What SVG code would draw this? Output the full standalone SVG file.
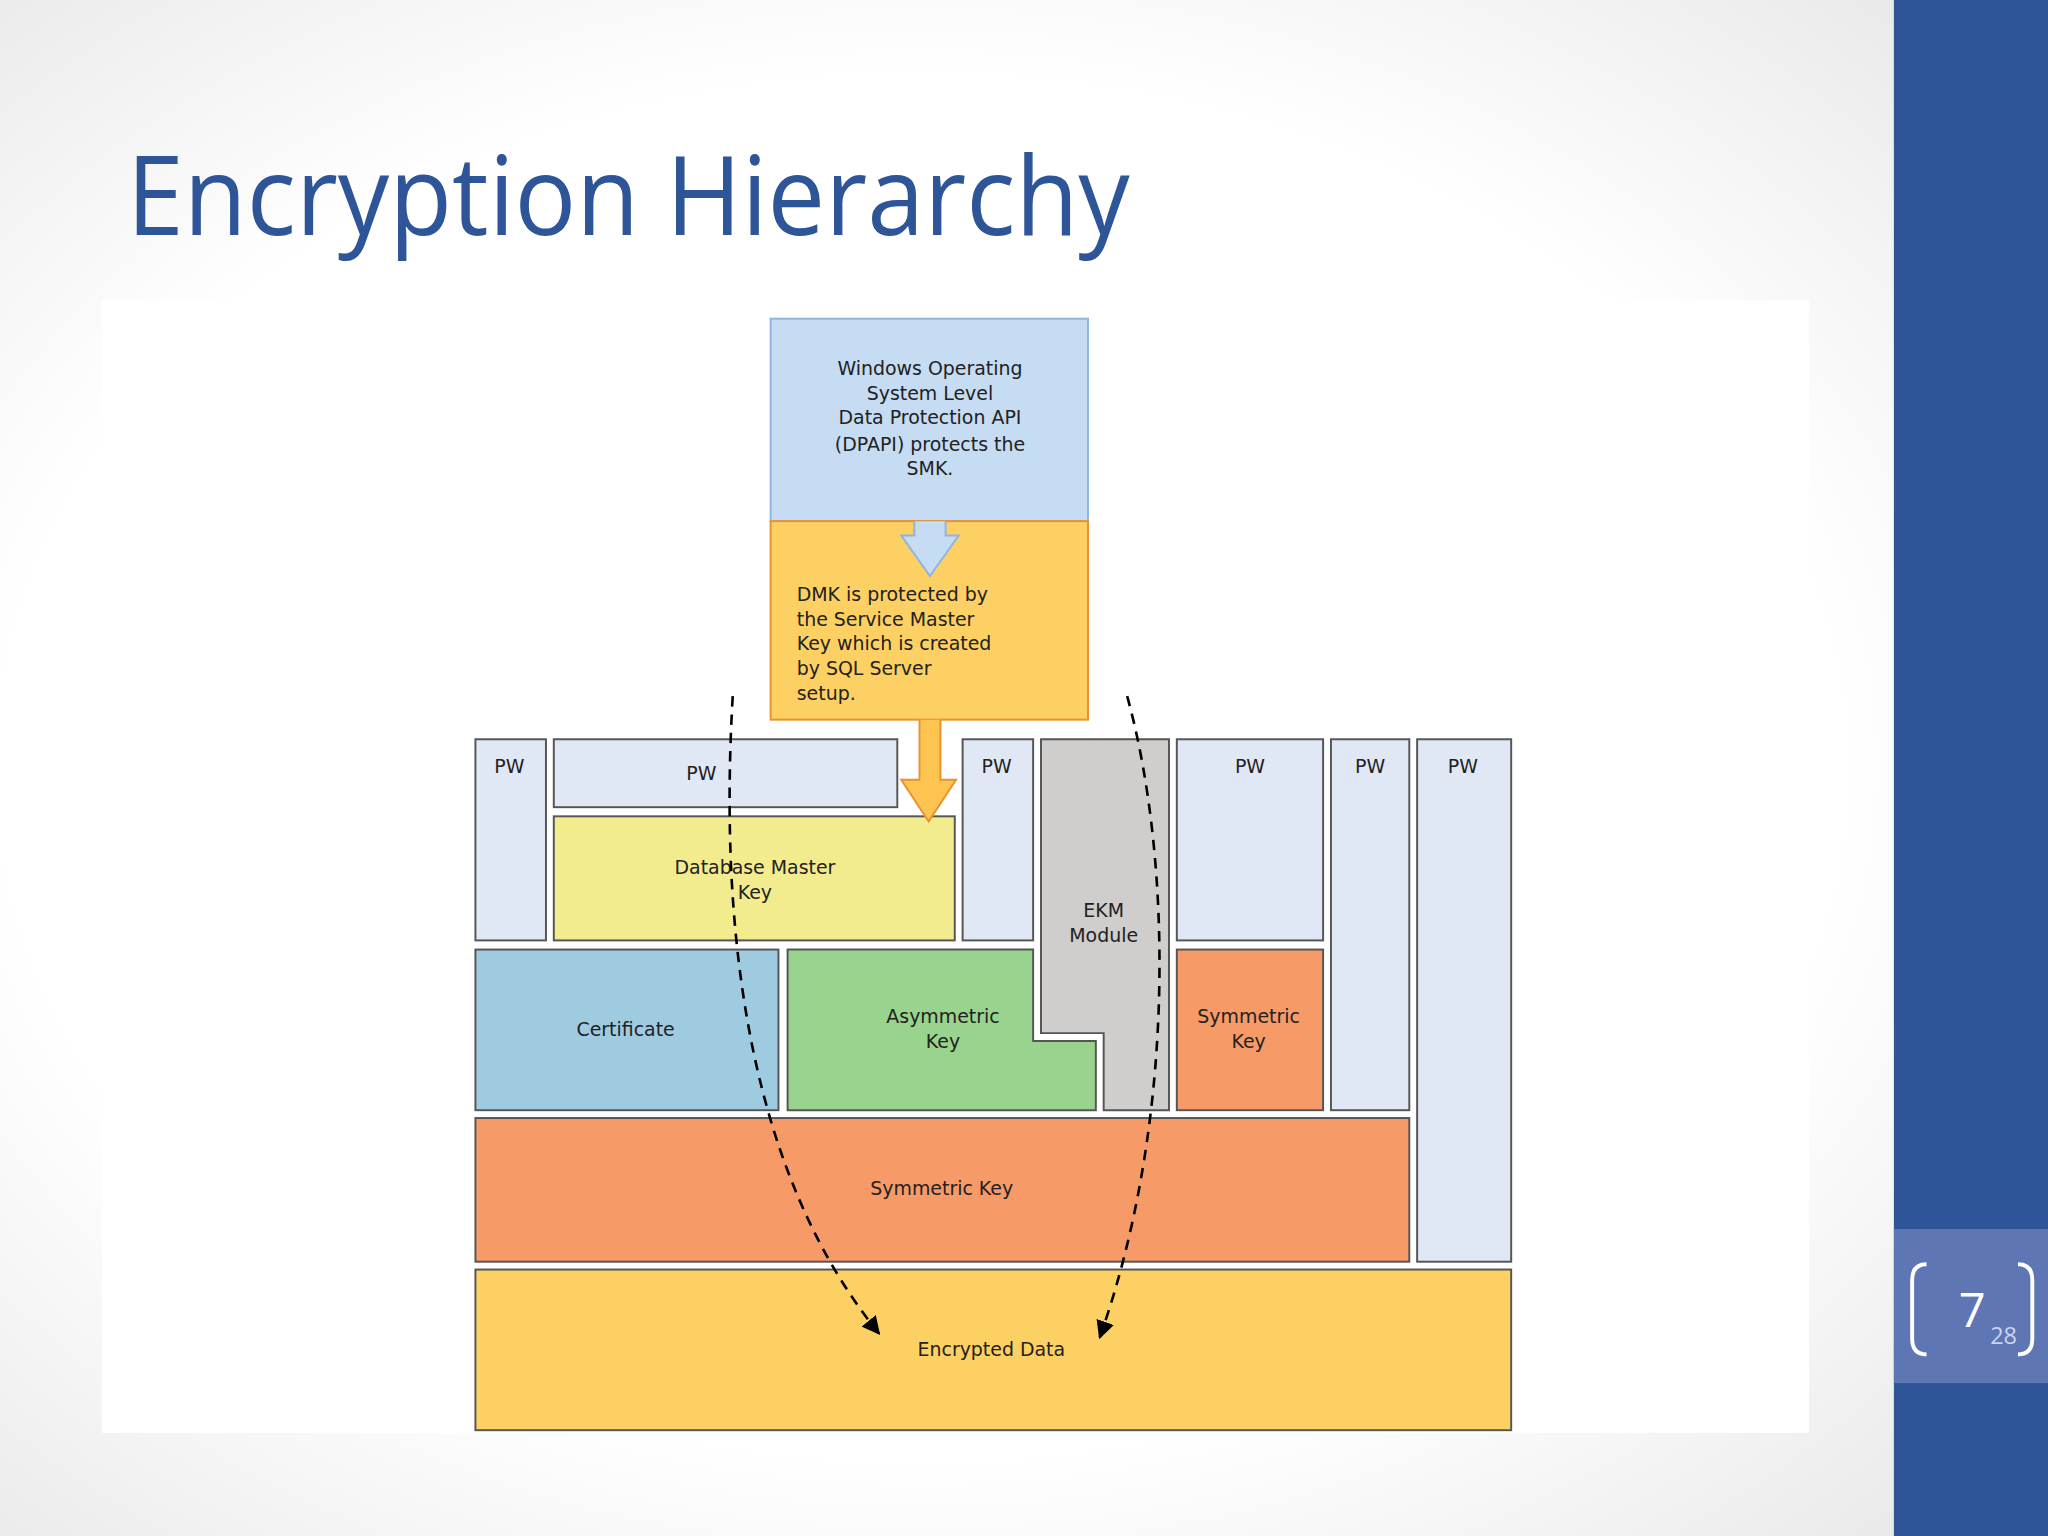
<svg xmlns="http://www.w3.org/2000/svg" width="2048" height="1536" viewBox="0 0 2048 1536">
<defs>
<radialGradient id="bg" cx="0.45" cy="0.5" r="0.75"><stop offset="0.6" stop-color="#ffffff"/><stop offset="1" stop-color="#e4e4e4"/></radialGradient>
<marker id="ah" viewBox="0 0 10 10" refX="9" refY="5" markerWidth="7" markerHeight="7" orient="auto-start-reverse"><path d="M0,0 L10,5 L0,10 Z" fill="#000"/></marker>
<style>
.t{font-family:"DejaVu Sans",Verdana,sans-serif;font-size:14.5px;fill:#222;text-anchor:middle}
.l{text-anchor:start}
.pw{fill:#E1E8F5;stroke:#555;stroke-width:1.5}
.b{stroke:#555;stroke-width:1.5}
.d{fill:none;stroke:#000;stroke-width:2;stroke-dasharray:8,6}
</style>
</defs>
<rect width="2048" height="1536" fill="url(#bg)"/>
<g transform="scale(1.30612)">
<rect x="78" y="230" width="1307" height="867" fill="#fff"/>
<text x="97" y="180" font-family="'Open Sans',sans-serif" font-size="84" fill="#2E5597" textLength="768" lengthAdjust="spacingAndGlyphs">Encryption Hierarchy</text>
<rect x="1450" y="0" width="118" height="1176" fill="#2E5597"/>
<rect x="1450" y="941" width="118" height="118" fill="#5E76B4"/>
<path d="M1475,968 Q1464,968 1464,980 L1464,1025 Q1464,1037 1475,1037" fill="none" stroke="#fff" stroke-width="3"/>
<path d="M1545,968 Q1556,968 1556,980 L1556,1025 Q1556,1037 1545,1037" fill="none" stroke="#fff" stroke-width="3"/>
<text x="1510" y="1016" font-family="'Open Sans',sans-serif" font-size="36" fill="#fff" text-anchor="middle">7</text>
<text x="1534" y="1029" font-family="'Open Sans',sans-serif" font-size="18" fill="#c8d4f0" text-anchor="middle">28</text>

<g id="dpapi"><rect x="590" y="244" width="243" height="155" fill="#C5DCF2" stroke="#8FB4E3" stroke-width="1.5"/>
<text class="t" x="712" y="287">Windows Operating</text><text class="t" x="712" y="306">System Level</text><text class="t" x="712" y="325">Data Protection API</text><text class="t" x="712" y="345">(DPAPI) protects the</text><text class="t" x="712" y="364">SMK.</text></g>
<g id="smk"><rect x="590" y="399" width="243" height="152" fill="#FDD063" stroke="#E8922F" stroke-width="1.5"/>
<text class="t l" x="610" y="460">DMK is protected by</text><text class="t l" x="610" y="479">the Service Master</text><text class="t l" x="610" y="498">Key which is created</text><text class="t l" x="610" y="517">by SQL Server</text><text class="t l" x="610" y="536">setup.</text></g>
<g id="pw1"><rect class="pw" x="364" y="566" width="54" height="154"/><text class="t" x="390" y="592">PW</text></g>
<g id="pw2"><rect class="pw" x="424" y="566" width="263" height="52"/><text class="t" x="537" y="597">PW</text></g>
<g id="pw3"><rect class="pw" x="737" y="566" width="54" height="154"/><text class="t" x="763" y="592">PW</text></g>
<g id="pw4"><rect class="pw" x="901" y="566" width="112" height="154"/><text class="t" x="957" y="592">PW</text></g>
<g id="pw5"><rect class="pw" x="1019" y="566" width="60" height="284"/><text class="t" x="1049" y="592">PW</text></g>
<g id="pw6"><rect class="pw" x="1085" y="566" width="72" height="400"/><text class="t" x="1120" y="592">PW</text></g>
<g id="dmk"><rect class="b" x="424" y="625" width="307" height="95" fill="#F2EC8E"/><text class="t" x="578" y="669">Database Master</text><text class="t" x="578" y="688">Key</text></g>
<g id="ekm"><path class="b" d="M797,566 H895 V850 H845 V791 H797 Z" fill="#D0CDCD"/><text class="t" x="845" y="702">EKM</text><text class="t" x="845" y="721">Module</text></g>
<g id="cert"><rect class="b" x="364" y="727" width="232" height="123" fill="#9FCBE1"/><text class="t" x="479" y="793">Certificate</text></g>
<g id="asym"><path class="b" d="M603,727 H791 V797 H839 V850 H603 Z" fill="#98D48D"/><text class="t" x="722" y="783">Asymmetric</text><text class="t" x="722" y="802">Key</text></g>
<g id="sym1"><rect class="b" x="901" y="727" width="112" height="123" fill="#F69A67"/><text class="t" x="956" y="783">Symmetric</text><text class="t" x="956" y="802">Key</text></g>
<g id="sym2"><rect class="b" x="364" y="856" width="715" height="110" fill="#F69A67"/><text class="t" x="721" y="915">Symmetric Key</text></g>
<g id="data"><rect class="b" x="364" y="972" width="793" height="123" fill="#FDD063"/><text class="t" x="759" y="1038">Encrypted Data</text></g>
<g id="connectors">
<path d="M700,399 V410 H690 L712,441 L734,410 H724 V399" fill="#C5DCF2" stroke="#8FB4E3" stroke-width="1.5"/>
<path d="M704,551 V597 H690 L711,629 L732,597 H720 V551" fill="#FDC44F" stroke="#E8922F" stroke-width="1.5"/>
<path class="d" d="M561,533 C550,720 575,900 673,1021" marker-end="url(#ah)"/>
<path class="d" d="M863,533 C898,660 900,860 842,1024" marker-end="url(#ah)"/>
</g>
</g>
</svg>
